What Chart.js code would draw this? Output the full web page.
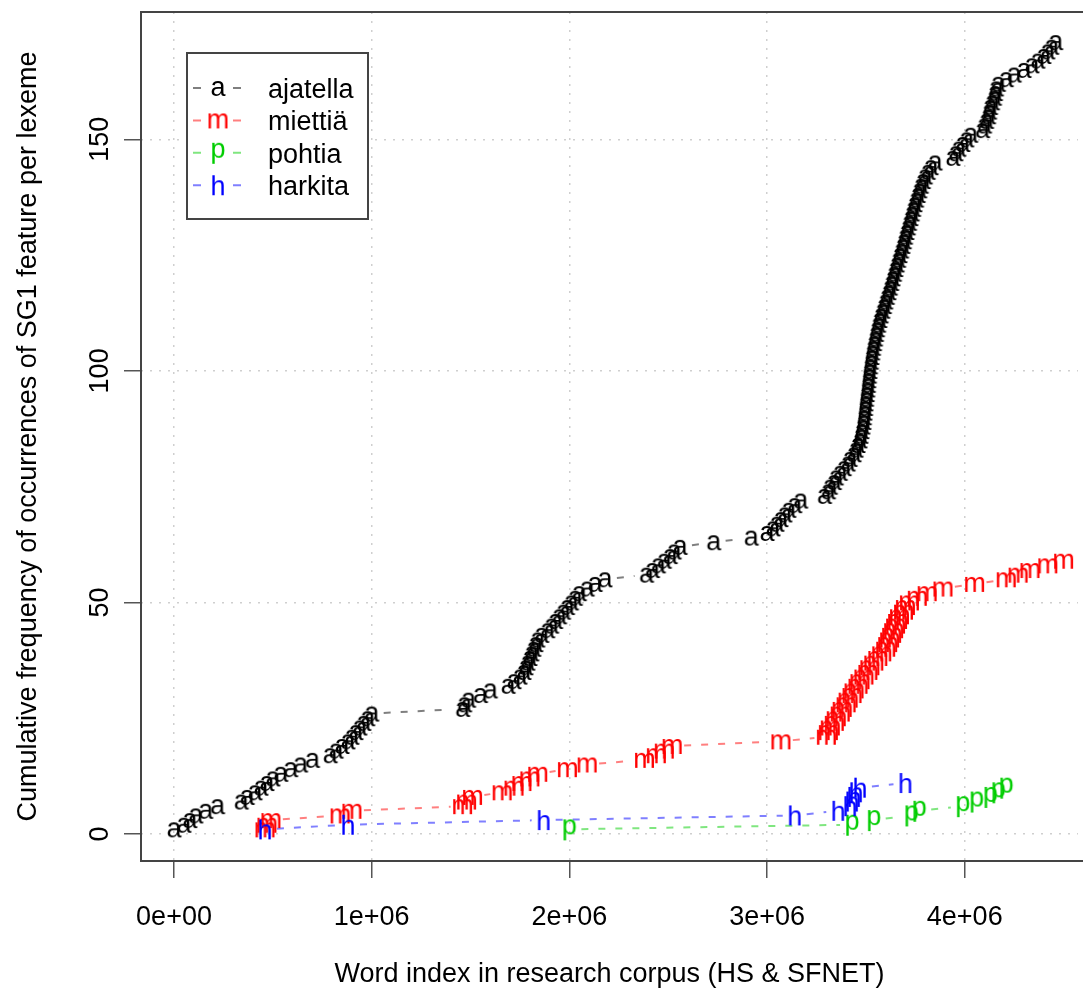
<!DOCTYPE html>
<html lang="en">
<head>
<meta charset="UTF-8">
<title>Cumulative frequency of SG1 feature per lexeme</title>
<script src="https://cdn.jsdelivr.net/npm/chart.js"></script>
<style>
  html, body { margin: 0; padding: 0; background: #fff; }
  #wrap { width: 1083px; height: 996px; }
</style>
</head>
<body>
<div id="wrap"><canvas id="chart" width="1083" height="996"></canvas></div>
<script>
// word index (in millions) of every SG1 occurrence, one list per lexeme
const ajatellaPos = [
  0.00, 0.05, 0.08, 0.11, 0.16, 0.22, 0.34, 0.37, 0.41, 0.44,
  0.47, 0.50, 0.54, 0.59, 0.64, 0.70, 0.79, 0.82, 0.85, 0.88,
  0.90, 0.92, 0.94, 0.96, 0.98, 1.00, 1.46, 1.47, 1.49, 1.55,
  1.60, 1.69, 1.72, 1.75, 1.77, 1.78, 1.79, 1.80, 1.81, 1.82,
  1.83, 1.84, 1.86, 1.89, 1.91, 1.93, 1.95, 1.97, 1.99, 2.01,
  2.03, 2.05, 2.09, 2.13, 2.18, 2.39, 2.42, 2.45, 2.48, 2.51,
  2.53, 2.56, 2.73, 2.92, 3.00, 3.03, 3.05, 3.07, 3.09, 3.11,
  3.14, 3.17, 3.29, 3.31, 3.32, 3.34, 3.35, 3.37, 3.39, 3.41,
  3.42, 3.44, 3.45, 3.46, 3.47, 3.475, 3.48, 3.485, 3.49, 3.492,
  3.495, 3.498, 3.50, 3.503, 3.506, 3.509, 3.512, 3.514, 3.517, 3.52,
  3.523, 3.527, 3.53, 3.534, 3.538, 3.543, 3.548, 3.553, 3.558, 3.564,
  3.57, 3.577, 3.585, 3.593, 3.60, 3.608, 3.616, 3.623, 3.63, 3.637,
  3.644, 3.651, 3.658, 3.665, 3.672, 3.68, 3.687, 3.694, 3.70, 3.707,
  3.714, 3.72, 3.727, 3.734, 3.741, 3.748, 3.756, 3.764, 3.772, 3.78,
  3.79, 3.80, 3.815, 3.83, 3.85, 3.94, 3.955, 3.97, 3.99, 4.01,
  4.03, 4.09, 4.10, 4.11, 4.12, 4.125, 4.13, 4.14, 4.15, 4.155,
  4.16, 4.17, 4.21, 4.25, 4.30, 4.34, 4.37, 4.40, 4.42, 4.44,
  4.46
];
const miettiaPos = [
  0.46, 0.47, 0.49, 0.84, 0.90, 1.46, 1.48, 1.51, 1.66, 1.72,
  1.76, 1.80, 1.84, 1.99, 2.09, 2.38, 2.44, 2.48, 2.52, 3.07,
  3.30, 3.31, 3.32, 3.34, 3.35, 3.37, 3.38, 3.40, 3.41, 3.43,
  3.44, 3.46, 3.47, 3.49, 3.51, 3.52, 3.54, 3.56, 3.58, 3.60,
  3.61, 3.62, 3.63, 3.64, 3.65, 3.66, 3.67, 3.69, 3.70, 3.72,
  3.76, 3.81, 3.89, 4.05, 4.21, 4.27, 4.33, 4.42, 4.50
];
const pohtiaPos = [2.00, 3.43, 3.54, 3.73, 3.77, 3.99, 4.06, 4.13, 4.17, 4.21];
const harkitaPos = [0.46, 0.88, 1.87, 3.14, 3.36, 3.42, 3.43, 3.44, 3.45, 3.47, 3.70];

const lexemes = ['ajatella', 'miettiä', 'pohtia', 'harkita'];
const symbols = ['a', 'm', 'p', 'h'];
const colors = ['#000000', '#ff0000', '#00cd00', '#0000ff'];
const lineColors = ['rgba(0,0,0,0.5)', 'rgba(255,0,0,0.5)', 'rgba(0,205,0,0.5)', 'rgba(0,0,255,0.5)'];
const positions = [ajatellaPos, miettiaPos, pohtiaPos, harkitaPos];

const xTicks = [0, 1e6, 2e6, 3e6, 4e6];
const xTickLabels = ['0e+00', '1e+06', '2e+06', '3e+06', '4e+06'];
const yTicks = [0, 50, 100, 150];
const xTitle = 'Word index in research corpus (HS & SFNET)';
const yTitle = 'Cumulative frequency of occurrences of SG1 feature per lexeme';

const FAMILY = '"Liberation Sans", Arial, Helvetica, sans-serif';
const FONT_SIZE = 27;
const FONT = FONT_SIZE + 'px ' + FAMILY;

// letter used as plotting symbol (like pch = "a" in R), ink centred on the point
function letterImage(ch, color) {
    const c = document.createElement('canvas');
    let ctx = c.getContext('2d');
    ctx.font = FONT;
    const m = ctx.measureText(ch);
    c.width = Math.ceil(m.width) + 4;
    c.height = 40;
    ctx = c.getContext('2d');
    ctx.font = FONT;
    ctx.fillStyle = color;
    ctx.textAlign = 'center';
    ctx.textBaseline = 'alphabetic';
    const asc = m.actualBoundingBoxAscent, desc = m.actualBoundingBoxDescent;
    ctx.fillText(ch, c.width / 2, c.height / 2 + (asc - desc) / 2);
    return c;
}

const datasets = positions.map((pos, i) => ({
    label: lexemes[i],
    data: pos.map((x, k) => ({ x: x * 1e6, y: k + 1 })),
    pointStyle: letterImage(symbols[i], colors[i]),
    borderColor: lineColors[i],
    showLine: false,
    order: 4 - i
}));

// R style type = "b": dashed segments that stop short of the symbols
const GAP = 12;
const rStyle = {
    id: 'rStyle',
    beforeDatasetsDraw(chart) {
        const { ctx, chartArea: a } = chart;
        ctx.save();
        ctx.beginPath();
        ctx.rect(a.left, a.top, a.right - a.left, a.bottom - a.top);
        ctx.clip();
        chart.data.datasets.forEach((ds, i) => {
            const pts = chart.getDatasetMeta(i).data;
            ctx.strokeStyle = ds.borderColor;
            ctx.lineWidth = 2;
            ctx.setLineDash([7, 10]);
            for (let k = 1; k < pts.length; k++) {
                const dx = pts[k].x - pts[k - 1].x, dy = pts[k].y - pts[k - 1].y;
                const d = Math.hypot(dx, dy);
                if (d <= 2 * GAP + 4) continue;
                const ux = dx / d, uy = dy / d;
                ctx.beginPath();
                ctx.moveTo(pts[k - 1].x + ux * GAP, pts[k - 1].y + uy * GAP);
                ctx.lineTo(pts[k].x - ux * GAP, pts[k].y - uy * GAP);
                ctx.stroke();
            }
        });
        ctx.restore();

        // plot box (its right side lies past the picture edge)
        ctx.save();
        ctx.strokeStyle = '#444';
        ctx.lineWidth = 2;
        ctx.beginPath();
        ctx.moveTo(chart.width, a.top);
        ctx.lineTo(a.left, a.top);
        ctx.lineTo(a.left, a.bottom);
        ctx.lineTo(chart.width, a.bottom);
        ctx.stroke();
        ctx.restore();
    },
    afterDraw(chart) {
        const { ctx } = chart;
        const ys = chart.scales.y;
        ctx.save();
        ctx.font = FONT;
        ctx.fillStyle = '#000';
        ctx.textAlign = 'center';
        ctx.textBaseline = 'middle';
        // rotated y tick labels
        yTicks.forEach(v => {
            ctx.save();
            ctx.translate(101, ys.getPixelForValue(v));
            ctx.rotate(-Math.PI / 2);
            ctx.fillText(String(v), 0, 0);
            ctx.restore();
        });

        // legend
        ctx.strokeStyle = '#444';
        ctx.lineWidth = 2;
        ctx.fillStyle = '#fff';
        ctx.fillRect(187, 53, 181, 166);
        ctx.strokeRect(187, 53, 181, 166);
        lexemes.forEach((name, i) => {
            const yc = 88 + i * 32.4;
            ctx.strokeStyle = lineColors[i];
            ctx.lineWidth = 2;
            ctx.beginPath();
            ctx.moveTo(193, yc); ctx.lineTo(201, yc);
            ctx.moveTo(233, yc); ctx.lineTo(241, yc);
            ctx.stroke();
            const img = datasets[i].pointStyle;
            ctx.drawImage(img, 218 - img.width / 2, yc - img.height / 2);
            ctx.fillStyle = '#000';
            ctx.textAlign = 'left';
            ctx.textBaseline = 'alphabetic';
            ctx.fillText(name, 268, yc + 10);
        });
        ctx.restore();
    }
};

new Chart(document.getElementById('chart'), {
    type: 'scatter',
    data: { datasets },
    options: {
        responsive: false,
        animation: false,
        layout: { padding: { top: 12, right: 0, bottom: 0, left: 0 } },
        plugins: {
            legend: { display: false },
            tooltip: { enabled: false }
        },
        scales: {
            x: {
                type: 'linear',
                min: -0.167e6,
                max: 4.573e6,
                afterBuildTicks: s => { s.ticks = xTicks.map(v => ({ value: v })); },
                afterFit: s => { s.height = 135; },
                ticks: {
                    callback: (v, i) => xTickLabels[i],
                    font: { family: FAMILY, size: FONT_SIZE },
                    color: '#000',
                    padding: 23,
                    maxRotation: 0,
                    autoSkip: false
                },
                grid: { color: '#cfcfcf', lineWidth: 1.5, tickColor: '#555', tickLength: 17, tickWidth: 1.5 },
                border: { display: false, dash: [2, 7] },
                title: {
                    display: true,
                    text: xTitle,
                    font: { family: FAMILY, size: FONT_SIZE },
                    color: '#000',
                    padding: { top: 0, bottom: 5 }
                }
            },
            y: {
                type: 'linear',
                min: -5.84,
                max: 177.5,
                afterBuildTicks: s => { s.ticks = yTicks.map(v => ({ value: v })); },
                afterFit: s => { s.width = 141; },
                ticks: { display: false },
                grid: { color: '#cfcfcf', lineWidth: 1.5, tickColor: '#555', tickLength: 17, tickWidth: 1.5 },
                border: { display: false, dash: [2, 7] },
                title: {
                    display: true,
                    text: yTitle,
                    font: { family: FAMILY, size: FONT_SIZE },
                    color: '#000',
                    padding: { top: 12, bottom: 0 }
                }
            }
        }
    },
    plugins: [rStyle]
});
</script>
</body>
</html>
